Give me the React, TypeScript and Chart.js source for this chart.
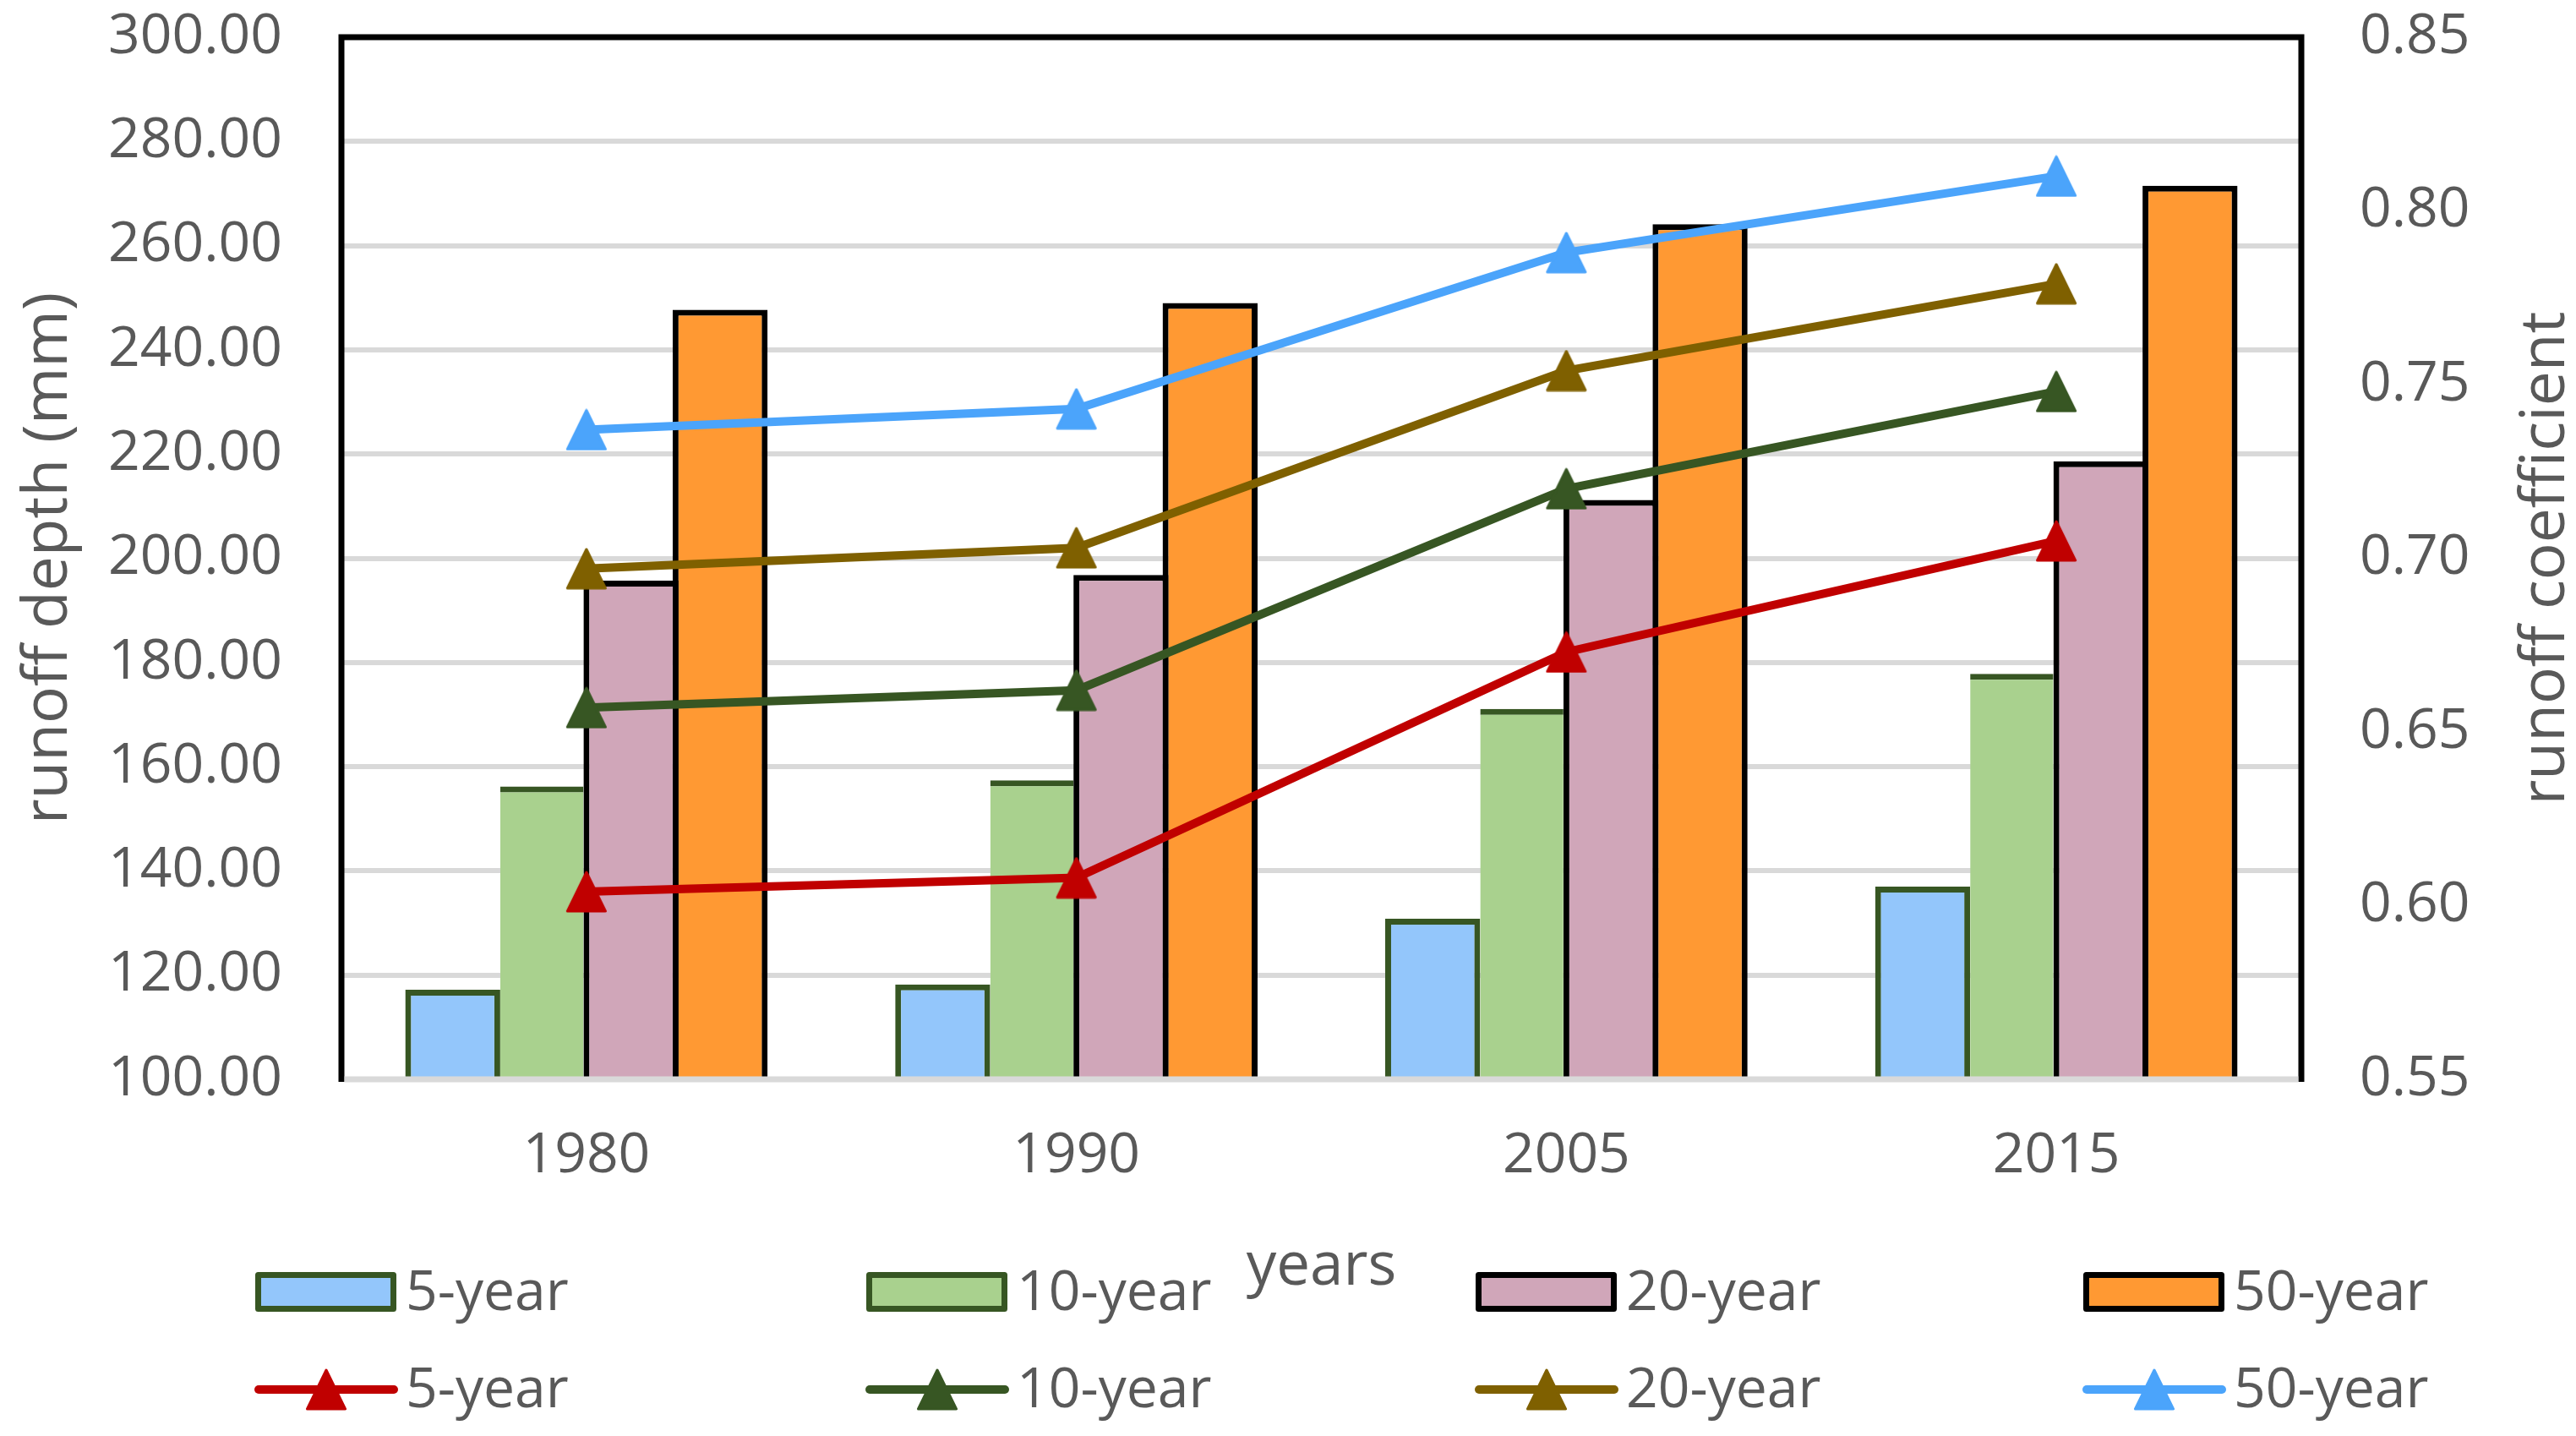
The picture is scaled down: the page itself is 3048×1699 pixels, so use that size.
import React, { useEffect, useRef } from 'react';
import { Chart, registerables } from 'chart.js';

Chart.register(...registerables);

// ---------- data ----------
const categories = ['1980', '1990', '2005', '2015'];
const seriesNames = ['5-year', '10-year', '20-year', '50-year'];

const depth5 = [117.2, 118.2, 130.8, 137.0];
const depth10 = [156.2, 157.4, 171.1, 177.8];
const depth20 = [195.7, 196.8, 211.2, 218.6];
const depth50 = [247.7, 249.0, 264.1, 271.5];

const coef5 = [0.604, 0.608, 0.673, 0.705];
const coef10 = [0.657, 0.662, 0.72, 0.748];
const coef20 = [0.697, 0.703, 0.754, 0.779];
const coef50 = [0.737, 0.743, 0.788, 0.81];

const depthAxis = { min: 100, max: 300, step: 20 };
const coefAxis = { min: 0.55, max: 0.85, step: 0.05 };

const leftTitle = 'runoff depth (mm)';
const rightTitle = 'runoff coefficient';
const xTitle = 'years';

// ---------- styles ----------
const W = 3048;
const H = 1699;
const FONT = "'Open Sans', 'Noto Sans', sans-serif";
const TEXT = '#595959';
const barFill = ['#93C6FB', '#A9D18E', '#D0A6B9', '#FF9933'];
const barBorder = ['#375623', '#375623', '#000000', '#000000'];
const lineColors = ['#C00000', '#375623', '#7F6000', '#4BA4FB'];
const legendCols = [302, 1025, 1746, 2465];
const BW = 7;

function makeTriangle(color: string): HTMLCanvasElement {
  const c = document.createElement('canvas');
  c.width = 50;
  c.height = 50;
  const g = c.getContext('2d')!;
  g.fillStyle = color;
  g.strokeStyle = color;
  g.lineWidth = 3;
  g.lineJoin = 'round';
  g.beginPath();
  g.moveTo(25, 2);
  g.lineTo(47.5, 48);
  g.lineTo(2.5, 48);
  g.closePath();
  g.fill();
  g.stroke();
  return c;
}

export default function App() {
  const ref = useRef<HTMLCanvasElement | null>(null);

  useEffect(() => {
    if (!ref.current) return;
    const tris = lineColors.map(makeTriangle);
    const depthSeries = [depth5, depth10, depth20, depth50];
    const coefSeries = [coef5, coef10, coef20, coef50];

    const barSets = depthSeries.map((d, i) => ({
      type: 'bar' as const,
      label: seriesNames[i],
      data: d,
      yAxisID: 'y',
      backgroundColor: barFill[i],
      borderColor: barBorder[i],
      // the 10-year bar sits between borders drawn by its neighbours
      borderWidth: i === 1 ? { top: BW, left: 0, right: 0, bottom: 0 } : BW,
      categoryPercentage: 0.7276,
      barPercentage: i === 1 ? 0.9336 : 1.066,
      order: 10 + i,
    }));
    const lineSets = coefSeries.map((d, i) => ({
      type: 'line' as const,
      label: seriesNames[i],
      data: d,
      yAxisID: 'y1',
      borderColor: lineColors[i],
      backgroundColor: lineColors[i],
      borderWidth: 10,
      tension: 0,
      fill: false,
      pointStyle: tris[i],
      pointRadius: 24,
      pointHoverRadius: 24,
      order: i,
    }));

    const decor = {
      id: 'decor',
      afterDatasetsDraw(chart: any) {
        const { ctx, chartArea: a } = chart;
        ctx.save();
        ctx.strokeStyle = '#000000';
        ctx.lineWidth = 7;
        ctx.lineJoin = 'miter';
        ctx.beginPath();
        ctx.moveTo(a.left, a.bottom + 3);
        ctx.lineTo(a.left, a.top);
        ctx.lineTo(a.right, a.top);
        ctx.lineTo(a.right, a.bottom + 3);
        ctx.stroke();
        ctx.strokeStyle = '#D9D9D9';
        ctx.beginPath();
        ctx.moveTo(a.left + 3.5, a.bottom);
        ctx.lineTo(a.right - 3.5, a.bottom);
        ctx.stroke();
        ctx.restore();
      },
      afterDraw(chart: any) {
        const { ctx, chartArea: a } = chart;
        const midY = (a.top + a.bottom) / 2;
        const midX = (a.left + a.right) / 2;
        ctx.save();
        ctx.fillStyle = TEXT;
        ctx.textBaseline = 'alphabetic';
        ctx.font = `73px ${FONT}`;
        ctx.textAlign = 'center';
        ctx.save();
        ctx.translate(79, midY);
        ctx.rotate(-Math.PI / 2);
        ctx.fillText(leftTitle, 0, 0);
        ctx.restore();
        ctx.save();
        ctx.translate(3034, midY);
        ctx.rotate(-Math.PI / 2);
        ctx.fillText(rightTitle, 0, 0);
        ctx.restore();
        ctx.font = `71px ${FONT}`;
        ctx.fillText(xTitle, midX, 1520);

        ctx.font = `66px ${FONT}`;
        ctx.textAlign = 'left';
        for (let i = 0; i < 4; i++) {
          const x0 = legendCols[i];
          ctx.fillStyle = barFill[i];
          ctx.fillRect(x0 + 3.5, 1508.5, 160, 40);
          ctx.strokeStyle = barBorder[i];
          ctx.lineWidth = 7;
          ctx.lineJoin = 'round';
          ctx.strokeRect(x0 + 3.5, 1508.5, 160, 40);
          ctx.fillStyle = TEXT;
          ctx.fillText(seriesNames[i], x0 + 178, 1550);
          ctx.strokeStyle = lineColors[i];
          ctx.lineWidth = 10;
          ctx.lineCap = 'round';
          ctx.beginPath();
          ctx.moveTo(x0 + 4, 1644);
          ctx.lineTo(x0 + 164, 1644);
          ctx.stroke();
          ctx.lineCap = 'butt';
          ctx.drawImage(tris[i], x0 + 84 - 25, 1644 - 25);
          ctx.fillStyle = TEXT;
          ctx.fillText(seriesNames[i], x0 + 178, 1665);
        }
        ctx.restore();
      },
    };

    const clearPad = (s: any) => {
      s.paddingTop = 0;
      s.paddingBottom = 0;
      s.paddingLeft = 0;
      s.paddingRight = 0;
    };

    const tickFont = { family: FONT, size: 66 };
    const chart = new Chart(ref.current, {
      type: 'bar',
      data: { labels: categories, datasets: [...lineSets, ...barSets] as any },
      options: {
        responsive: false,
        animation: false,
        devicePixelRatio: 1,
        layout: { padding: { top: 44, left: 0, right: 0, bottom: 0 } },
        plugins: { legend: { display: false }, tooltip: { enabled: false } },
        scales: {
          x: {
            type: 'category',
            offset: true,
            grid: { display: false, drawTicks: false },
            border: { display: false },
            ticks: { color: TEXT, font: tickFont, padding: 52, maxRotation: 0 },
            afterFit: (s: any) => {
              s.height = 422;
              clearPad(s);
            },
          },
          y: {
            position: 'left',
            min: depthAxis.min,
            max: depthAxis.max,
            grid: { color: '#D9D9D9', lineWidth: 6, drawTicks: false },
            border: { display: false },
            ticks: {
              stepSize: depthAxis.step,
              color: TEXT,
              font: tickFont,
              padding: 70,
              callback: (v: any) => Number(v).toFixed(2),
            },
            afterFit: (s: any) => {
              s.width = 404;
              clearPad(s);
            },
          },
          y1: {
            position: 'right',
            min: coefAxis.min,
            max: coefAxis.max,
            grid: { display: false, drawTicks: false },
            border: { display: false },
            ticks: {
              stepSize: coefAxis.step,
              color: TEXT,
              font: tickFont,
              padding: 69,
              callback: (v: any) => Number(v).toFixed(2),
            },
            afterFit: (s: any) => {
              s.width = 325;
              clearPad(s);
            },
          },
        },
      } as any,
      plugins: [decor],
    });
    return () => chart.destroy();
  }, []);

  return (
    <canvas
      ref={ref}
      width={W}
      height={H}
      style={{ position: 'fixed', left: 0, top: 0, width: `${W}px`, height: `${H}px`, background: '#ffffff' }}
    />
  );
}
